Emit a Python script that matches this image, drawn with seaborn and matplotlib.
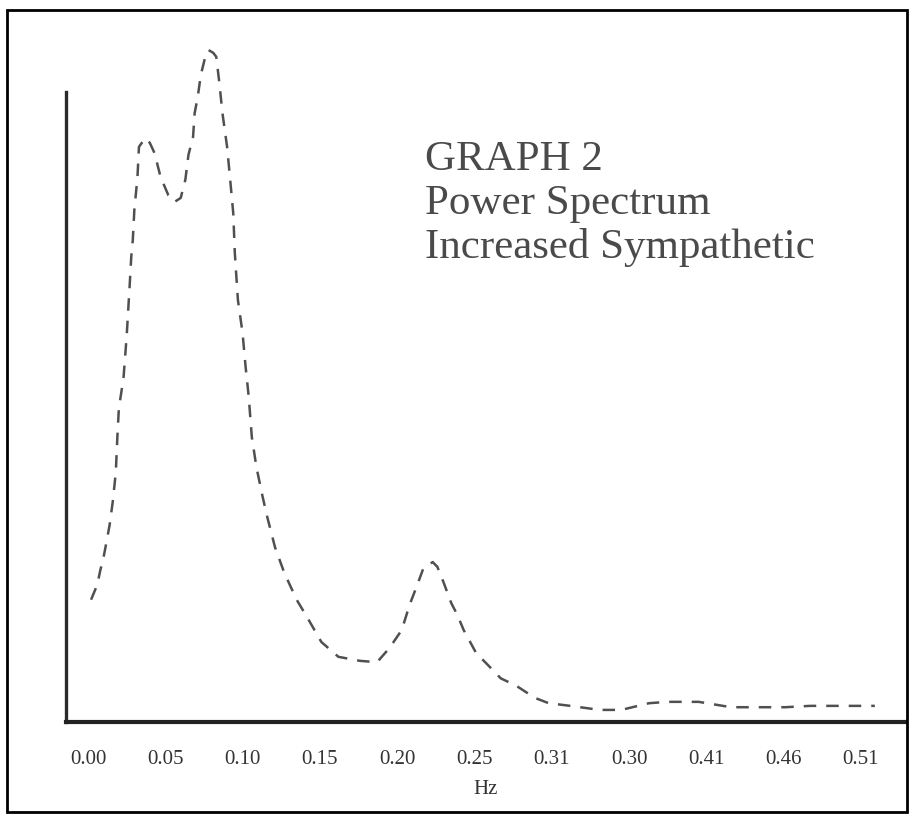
import numpy as np
import pandas as pd
import matplotlib
matplotlib.use("Agg")
import matplotlib.pyplot as plt
import seaborn as sns
from matplotlib.patches import Rectangle

# --- DADOS ---
freq_hz = [0.002, 0.006, 0.008, 0.010, 0.012, 0.014, 0.016, 0.018, 0.019, 0.020,
           0.023, 0.025, 0.027, 0.028, 0.029, 0.030, 0.032, 0.033, 0.037, 0.040,
           0.043, 0.047, 0.052, 0.056, 0.060, 0.063, 0.065, 0.068, 0.069, 0.071,
           0.073, 0.076, 0.078, 0.081, 0.083, 0.085, 0.087, 0.090, 0.092, 0.094,
           0.095, 0.097, 0.100, 0.102, 0.104, 0.106, 0.109, 0.113, 0.116, 0.121,
           0.127, 0.135, 0.142, 0.151, 0.162, 0.176, 0.187, 0.195, 0.203, 0.208,
           0.213, 0.217, 0.223, 0.226, 0.230, 0.235, 0.239, 0.243, 0.251, 0.262,
           0.267, 0.277, 0.289, 0.298, 0.312, 0.331, 0.345, 0.363, 0.375, 0.395,
           0.416, 0.451, 0.467, 0.501, 0.509]
power = [18.2, 20.4, 22.6, 24.4, 26.8, 29.3, 32.7, 37.1, 42.3, 46.7,
         51.2, 57.3, 65.0, 69.2, 71.7, 76.2, 81.0, 85.6, 86.9, 86.2,
         84.7, 81.1, 78.4, 77.4, 78.0, 80.7, 84.4, 87.1, 90.6, 93.0,
         96.3, 99.1, 100.0, 99.6, 99.0, 95.1, 90.6, 85.6, 80.7, 75.7,
         69.8, 62.8, 57.9, 52.8, 48.4, 42.4, 37.9, 33.5, 30.5, 26.0,
         22.2, 18.2, 15.5, 11.9, 9.7, 9.1, 8.9, 11.0, 13.7, 17.4,
         20.4, 22.9, 23.8, 23.1, 20.8, 17.7, 15.9, 13.7, 10.3, 7.7,
         6.5, 5.4, 3.6, 2.8, 2.4, 1.8, 1.8, 2.8, 3.0, 3.0,
         2.2, 2.2, 2.4, 2.4, 2.4]

tick_pos = [0.00, 0.05, 0.10, 0.15, 0.20, 0.25, 0.30, 0.35, 0.40, 0.45, 0.50]
tick_labels = ['0.00', '0.05', '0.10', '0.15', '0.20', '0.25',
               '0.31', '0.30', '0.41', '0.46', '0.51']

titulo = "GRAPH 2\nPower Spectrum\nIncreased Sympathetic"

df = pd.DataFrame({'Hz': freq_hz, 'power': power})

# --- FIGURA ---
sns.set_style("white")
plt.rcParams['font.family'] = ['Liberation Serif', 'DejaVu Serif']

fig = plt.figure(figsize=(9.12, 8.18), dpi=100)
ax = fig.add_axes([66 / 912, 1 - 722 / 818, 839 / 912, 682 / 818])

sns.lineplot(data=df, x='Hz', y='power', ax=ax, color='#505050',
             linewidth=1.8, linestyle=(0, (5, 4)), clip_on=False)

ax.set_xlim(-0.0142, 0.5285)
ax.set_ylim(0, 101.5)

ax.set_xticks(tick_pos)
ax.set_xticklabels(tick_labels, fontsize=15, color='#333333')
ax.set_yticks([])
ax.tick_params(axis='x', length=0, pad=20)
ax.set_xlabel('Hz', fontsize=15, color='#333333', labelpad=8)
ax.set_ylabel('')

for lado in ['top', 'right']:
    ax.spines[lado].set_visible(False)
ax.spines['left'].set_bounds(0, 93.75)
ax.spines['left'].set_linewidth(2.4)
ax.spines['left'].set_color('#2a2a2a')
ax.spines['bottom'].set_linewidth(3)
ax.spines['bottom'].set_color('#222222')

ax.text(0.218, 86.5, titulo, fontsize=31, color='#4a4a4a',
        va='top', ha='left', linespacing=1.18)

# moldura externa
fig.patches.append(Rectangle((7 / 912, 6 / 818), 900 / 912, 802 / 818,
                             transform=fig.transFigure, fill=False,
                             edgecolor='black', linewidth=2))

fig.savefig('out.png', dpi=100)
